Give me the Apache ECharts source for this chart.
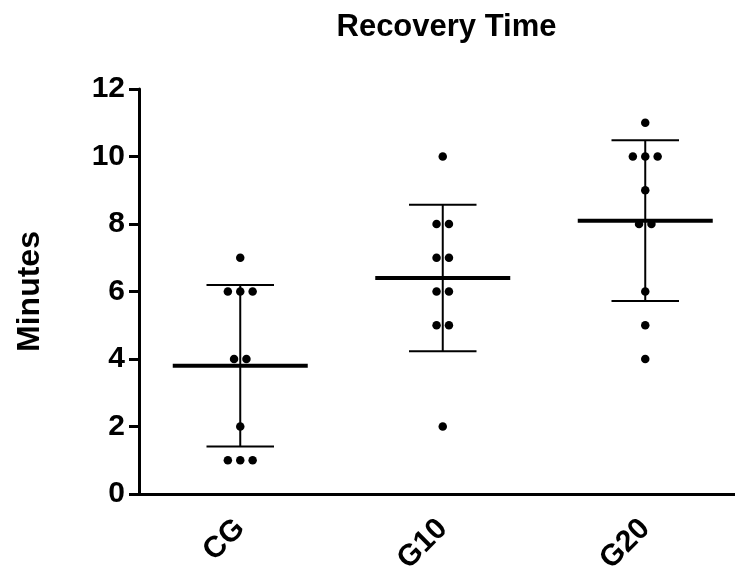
<!DOCTYPE html>
<html>
<head>
<meta charset="utf-8">
<script src="https://cdn.jsdelivr.net/npm/echarts@6/dist/echarts.min.js"></script>
<style>html,body{margin:0;padding:0;background:#fff;}#chart{width:735px;height:570px;}</style>
</head>
<body>
<div id="chart"></div>
<script>
const categories = ['CG', 'G10', 'G20'];
const cgValues = [7, 6, 6, 6, 4, 4, 2, 1, 1, 1];
const g10Values = [10, 8, 8, 7, 7, 6, 6, 5, 5, 2];
const g20Values = [11, 10, 10, 10, 9, 8, 8, 6, 5, 4];
const yMin = 0, yMax = 12, yStep = 2;
const titleText = 'Recovery Time';
const yName = 'Minutes';

const groups = [cgValues, g10Values, g20Values];
const FONT = '"Liberation Sans", Arial, sans-serif';
const DOT_SPACING = 12.4;

// scatter points with horizontal spreading of identical values
const scatterData = [];
groups.forEach(function (vals, gi) {
  const counts = {};
  vals.forEach(function (v) { counts[v] = (counts[v] || 0) + 1; });
  Object.keys(counts).forEach(function (key) {
    const k = counts[key];
    for (let i = 0; i < k; i++) {
      scatterData.push({ value: [gi, Number(key)], symbolOffset: [(i - (k - 1) / 2) * DOT_SPACING, 0] });
    }
  });
});

// mean and SD from the points
const statData = groups.map(function (vals, gi) {
  const n = vals.length;
  const mean = vals.reduce(function (a, b) { return a + b; }, 0) / n;
  const sd = Math.sqrt(vals.reduce(function (a, b) { return a + (b - mean) * (b - mean); }, 0) / (n - 1));
  return [gi, mean, sd];
});

const chart = echarts.init(document.getElementById('chart'), null, { renderer: 'canvas' });
chart.setOption({
  animation: false,
  backgroundColor: '#fff',
  title: {
    text: titleText,
    left: 441.5,
    textAlign: 'center',
    top: 7,
    textStyle: { fontFamily: FONT, fontWeight: 'bold', fontSize: 31, color: '#000' }
  },
  grid: { left: 139, width: 607.5, top: 89, bottom: 76, containLabel: false, outerBoundsMode: 'none' },
  xAxis: {
    type: 'category',
    data: categories,
    boundaryGap: true,
    axisLine: { lineStyle: { color: '#000', width: 3 } },
    axisTick: { alignWithLabel: true, length: 10, lineStyle: { color: '#000', width: 3 } },
    axisLabel: { rotate: 45, margin: 30, color: '#000', fontFamily: FONT, fontWeight: 'bold', fontSize: 30 },
    splitLine: { show: false }
  },
  yAxis: {
    type: 'value',
    min: yMin, max: yMax, interval: yStep,
    name: yName,
    nameLocation: 'middle',
    nameGap: 93,
    nameRotate: 90,
    nameTextStyle: { fontFamily: FONT, fontWeight: 'bold', fontSize: 32, color: '#000' },
    axisLine: { show: true, lineStyle: { color: '#000', width: 3 } },
    axisTick: { show: true, length: 10, lineStyle: { color: '#000', width: 3 } },
    axisLabel: { margin: 14, color: '#000', fontFamily: FONT, fontWeight: 'bold', fontSize: 30 },
    splitLine: { show: false }
  },
  series: [
    {
      type: 'custom',
      data: statData,
      clip: false,
      z: 2,
      renderItem: function (params, api) {
        const idx = api.value(0), mean = api.value(1), sd = api.value(2);
        const c = api.coord([idx, mean]);
        const band = api.size([1, 0])[0];
        const top = api.coord([idx, mean + sd])[1];
        const bot = api.coord([idx, mean - sd])[1];
        const black = { stroke: '#000', lineWidth: 2 };
        return {
          type: 'group',
          children: [
            { type: 'line', shape: { x1: c[0], y1: top, x2: c[0], y2: bot }, style: black },
            { type: 'line', shape: { x1: c[0] - band / 6, y1: top, x2: c[0] + band / 6, y2: top }, style: black },
            { type: 'line', shape: { x1: c[0] - band / 6, y1: bot, x2: c[0] + band / 6, y2: bot }, style: black },
            { type: 'line', shape: { x1: c[0] - band / 3, y1: c[1], x2: c[0] + band / 3, y2: c[1] }, style: { stroke: '#000', lineWidth: 4 } }
          ]
        };
      }
    },
    {
      type: 'scatter',
      data: scatterData,
      symbol: 'circle',
      symbolSize: 8.5,
      itemStyle: { color: '#000', opacity: 1 },
      z: 3
    }
  ]
});
</script>
</body>
</html>
